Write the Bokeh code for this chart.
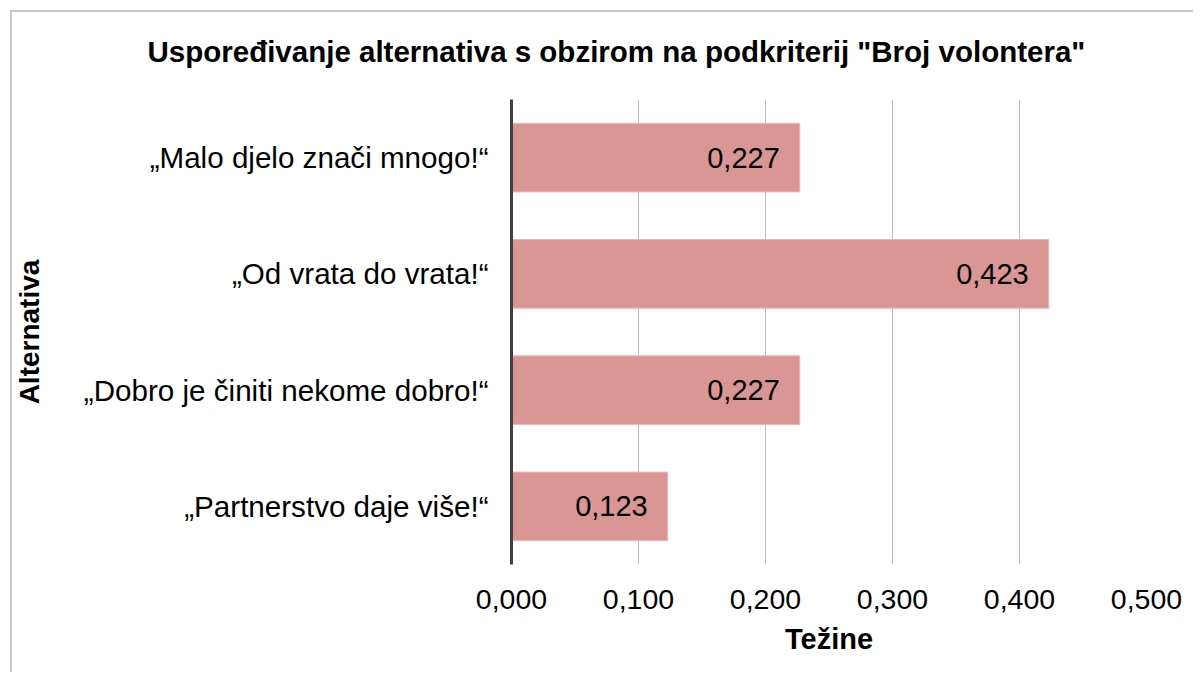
from bokeh.plotting import figure
from bokeh.models import ColumnDataSource, FixedTicker, LabelSet, FactorRange, Range1d, Title
from bokeh.embed import file_html
from bokeh.resources import INLINE
from bokeh.core.properties import value

categories = ["„Malo djelo znači mnogo!“", "„Od vrata do vrata!“",
              "„Dobro je činiti nekome dobro!“", "„Partnerstvo daje više!“"]
weights = [0.227, 0.423, 0.227, 0.123]
tick_values = [0.0, 0.1, 0.2, 0.3, 0.4, 0.5]
tick_labels = ["0,000", "0,100", "0,200", "0,300", "0,400", "0,500"]
title_text = 'Uspoređivanje alternativa s obzirom na podkriterij "Broj volontera"'
x_title = "Težine"
y_title = "Alternativa"

FONT = "Liberation Sans"
MB_L, MB_R, MB_T, MB_B = 511, 47, 97, 108
W, H = 1193, 672

src = ColumnDataSource(dict(
    cat=categories,
    w=weights,
    lbl=[f"{v:.3f}".replace(".", ",") for v in weights],
))

p = figure(width=W, height=H, output_backend="svg", toolbar_location=None,
           y_range=FactorRange(*categories[::-1], range_padding=0),
           x_range=Range1d(0, 0.5),
           min_border_left=MB_L, min_border_right=MB_R, min_border_top=MB_T, min_border_bottom=MB_B)
p.title = Title(text=title_text, align="left", offset=-364, standoff=64,
                text_font=FONT, text_font_style="bold", text_font_size="29.5px",
                text_color="#000000")
p.outline_line_color = None
p.background_fill_color = "white"
p.border_fill_color = None
p.styles = {
    "background": ("linear-gradient(#c8c8c8, #c8c8c8) 10px 10px / 2px 100% no-repeat, "
                   "linear-gradient(#c8c8c8, #c8c8c8) 10px 10px / 100% 2px no-repeat, white"),
}

p.hbar(y="cat", right="w", left=0, height=0.59, source=src,
       fill_color="#D99694", line_color="#E9B7B6", line_width=1)

p.add_layout(LabelSet(x="w", y="cat", text="lbl", source=src, x_offset=-20,
                      text_align="right", text_baseline="middle",
                      text_font=value(FONT), text_font_size="29px", text_color="#000000"))

# x axis
p.xaxis.ticker = FixedTicker(ticks=tick_values)
p.xaxis.major_label_overrides = {v: l for v, l in zip(tick_values, tick_labels)}
p.xaxis.axis_line_color = None
p.xaxis.major_tick_line_color = None
p.xaxis.minor_tick_line_color = None
p.xaxis.major_label_text_font = FONT
p.xaxis.major_label_text_font_size = "28.5px"
p.xaxis.major_label_text_color = "#000000"
p.xaxis.major_label_standoff = 19
p.xaxis.axis_label = x_title
p.xaxis.axis_label_text_font = FONT
p.xaxis.axis_label_text_font_style = "bold"
p.xaxis.axis_label_text_font_size = "29px"
p.xaxis.axis_label_text_color = "#000000"
p.xaxis.axis_label_standoff = 11

# y axis
p.yaxis.axis_line_color = "#404040"
p.yaxis.axis_line_width = 3
p.yaxis.major_tick_line_color = None
p.yaxis.minor_tick_line_color = None
p.yaxis.major_label_text_font = FONT
p.yaxis.major_label_text_font_size = "29.6px"
p.yaxis.major_label_text_color = "#000000"
p.yaxis.major_label_standoff = 17
p.yaxis.axis_label = y_title
p.yaxis.axis_label_text_font = FONT
p.yaxis.axis_label_text_font_style = "bold"
p.yaxis.axis_label_text_font_size = "28px"
p.yaxis.axis_label_text_color = "#000000"
p.yaxis.axis_label_standoff = 36

p.xgrid.grid_line_color = "#BFBFBF"
p.xgrid.grid_line_width = 1
p.ygrid.grid_line_color = None

open("out.html", "w").write(file_html(p, INLINE))
